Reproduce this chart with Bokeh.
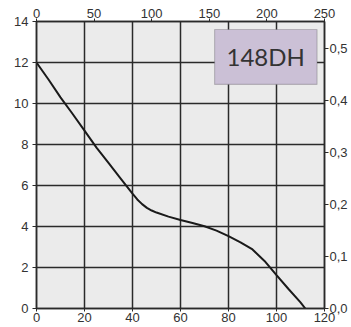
from bokeh.plotting import figure
from bokeh.models import Range1d, LinearAxis, FixedTicker, BoxAnnotation, Label
from bokeh.embed import file_html
from bokeh.resources import INLINE

# Data (airflow m3/h vs static pressure mm H2O)
flow = [0, 5, 10, 15, 20, 25, 30, 35, 40, 42, 44, 46, 48, 50, 55, 60, 65, 70, 75, 80, 85, 90, 95, 100,
        105, 110, 112]
pressure = [12.0, 11.17, 10.3, 9.5, 8.68, 7.85, 7.1, 6.35, 5.6, 5.32, 5.09, 4.91, 4.78, 4.68, 4.48, 4.32,
            4.17, 4.01, 3.8, 3.53, 3.23, 2.88, 2.32, 1.63, 0.95, 0.3, 0.0]

x_ticks = [0, 20, 40, 60, 80, 100, 120]
y_ticks = [0, 2, 4, 6, 8, 10, 12, 14]
top_ticks = [0, 50, 100, 150, 200, 250]
right_ticks = [0.0, 0.1, 0.2, 0.3, 0.4, 0.5]
right_labels = ["0,0", "0,1", "0,2", "0,3", "0,4", "0,5"]
model_name = "148DH"

# annotation box placement (data units)
box_left, box_right, box_bottom, box_top = 74.2, 116.9, 10.93, 13.61
label_x, label_y = 95.5, 12.27

TEXT = "#333333"
GRID = "#2a2a2a"
FONT = "Liberation Sans"
FS = "13px"

p = figure(width=351, height=327, output_backend="svg", toolbar_location=None,
           x_range=Range1d(0, 120), y_range=Range1d(0, 14),
           min_border_left=36, min_border_right=27, min_border_top=21, min_border_bottom=19)
p.extra_x_ranges = {"top": Range1d(0, 250)}
p.extra_y_ranges = {"right": Range1d(0, 14 * 0.03937)}

p.background_fill_color = "#ebebeb"
p.border_fill_color = "white"
p.outline_line_color = GRID
p.outline_line_width = 1.5

p.xgrid.ticker = FixedTicker(ticks=x_ticks)
p.ygrid.ticker = FixedTicker(ticks=y_ticks)
for g in (p.xgrid, p.ygrid):
    g.grid_line_color = GRID
    g.grid_line_width = 1.5

def style(ax, tick_out=4, standoff=2):
    ax.axis_line_color = GRID
    ax.axis_line_width = 1.5
    ax.major_tick_line_color = GRID
    ax.major_tick_out = tick_out
    ax.major_tick_in = 0
    ax.minor_tick_line_color = None
    ax.major_label_text_font = FONT
    ax.major_label_text_font_size = FS
    ax.major_label_text_color = TEXT
    ax.major_label_standoff = standoff

p.xaxis.ticker = FixedTicker(ticks=x_ticks)
p.yaxis.ticker = FixedTicker(ticks=y_ticks)
style(p.xaxis[0], tick_out=3, standoff=1)
style(p.yaxis[0], tick_out=4, standoff=4)

top_axis = LinearAxis(x_range_name="top", ticker=FixedTicker(ticks=top_ticks))
style(top_axis, tick_out=3, standoff=1)
p.add_layout(top_axis, "above")

right_axis = LinearAxis(y_range_name="right", ticker=FixedTicker(ticks=right_ticks),
                        major_label_overrides={t: l for t, l in zip(right_ticks, right_labels)})
style(right_axis, tick_out=4, standoff=1)
p.add_layout(right_axis, "right")

p.line(flow, pressure, line_color="#1a1a1a", line_width=2)

p.add_layout(BoxAnnotation(left=box_left, right=box_right, bottom=box_bottom, top=box_top,
                           fill_color="#cbc0d6", fill_alpha=1.0, line_color="#555555", line_width=1.2))
p.add_layout(Label(x=label_x, y=label_y, text=model_name, text_font="Lato", text_font_size="24px",
                   text_color=TEXT, text_align="center", text_baseline="middle"))

open("out.html", "w").write(file_html(p, INLINE))
